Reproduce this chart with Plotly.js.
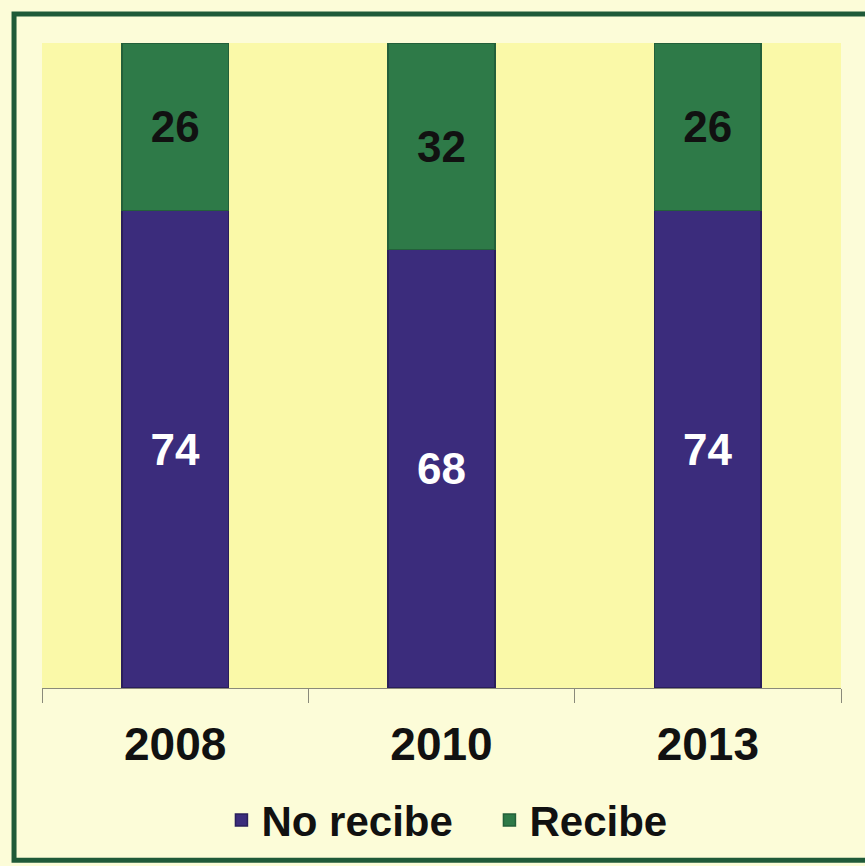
<!DOCTYPE html>
<html>
<head>
<meta charset="utf-8">
<script src="https://cdn.plot.ly/plotly-3.0.1.min.js"></script>
<style>html,body{margin:0;padding:0;background:#fcfcd8;}#chart{width:865px;height:866px;}</style>
</head>
<body>
<div id="chart"></div>
<script>
const years = ['2008', '2010', '2013'];
const noRecibe = [74, 68, 74];
const recibe = [26, 32, 26];
const seriesNames = ['No recibe', 'Recibe'];

const fontFam = 'Arial, "Liberation Sans", sans-serif';

const traces = [
  {
    type: 'bar', name: seriesNames[0], x: years, y: noRecibe,
    marker: {color: '#3b2c7c', line: {color: '#2a1f5c', width: 1.5}},
    text: noRecibe.map(String), textposition: 'inside', insidetextanchor: 'middle',
    textfont: {family: fontFam, size: 44, color: '#ffffff', weight: 'bold'},
    hoverinfo: 'none'
  },
  {
    type: 'bar', name: seriesNames[1], x: years, y: recibe,
    marker: {color: '#2e7a48', line: {color: '#23603a', width: 1.5}},
    text: recibe.map(String), textposition: 'inside', insidetextanchor: 'middle',
    textfont: {family: fontFam, size: 44, color: '#111111', weight: 'bold'},
    hoverinfo: 'none'
  }
];

const layout = {
  width: 865, height: 866,
  margin: {l: 42, r: 24, t: 43, b: 178},
  paper_bgcolor: '#fcfcd8',
  plot_bgcolor: '#faf9a8',
  barmode: 'stack',
  bargap: 0.6,
  showlegend: true,
  legend: {
    orientation: 'h', x: 0.560, xanchor: 'center', y: -0.205, yanchor: 'middle',
    font: {family: fontFam, size: 42, color: '#111111', weight: 'bold'},
    bgcolor: 'rgba(0,0,0,0)', traceorder: 'normal', itemwidth: 30,
    entrywidth: 223, entrywidthmode: 'pixels'
  },
  xaxis: {
    type: 'category',
    showline: true, linecolor: '#8a8a7a', linewidth: 1,
    ticks: 'outside', ticklen: 14, tickcolor: '#8a8a7a', tickson: 'boundaries',
    ticklabelstandoff: 16,
    tickfont: {family: fontFam, size: 46, color: '#111111', weight: 'bold'},
    showgrid: false, zeroline: false, fixedrange: true
  },
  yaxis: {
    range: [0, 100], visible: false, showgrid: false, zeroline: false, fixedrange: true
  },
  shapes: [
    {type: 'rect', xref: 'paper', yref: 'paper',
     x0: -0.035, x1: 1.07, y0: -0.267, y1: 1.045,
     line: {color: '#1f5a38', width: 5}, fillcolor: 'rgba(0,0,0,0)', layer: 'below'}
  ]
};

Plotly.newPlot('chart', traces, layout, {displayModeBar: false, staticPlot: true});
</script>
</body>
</html>
